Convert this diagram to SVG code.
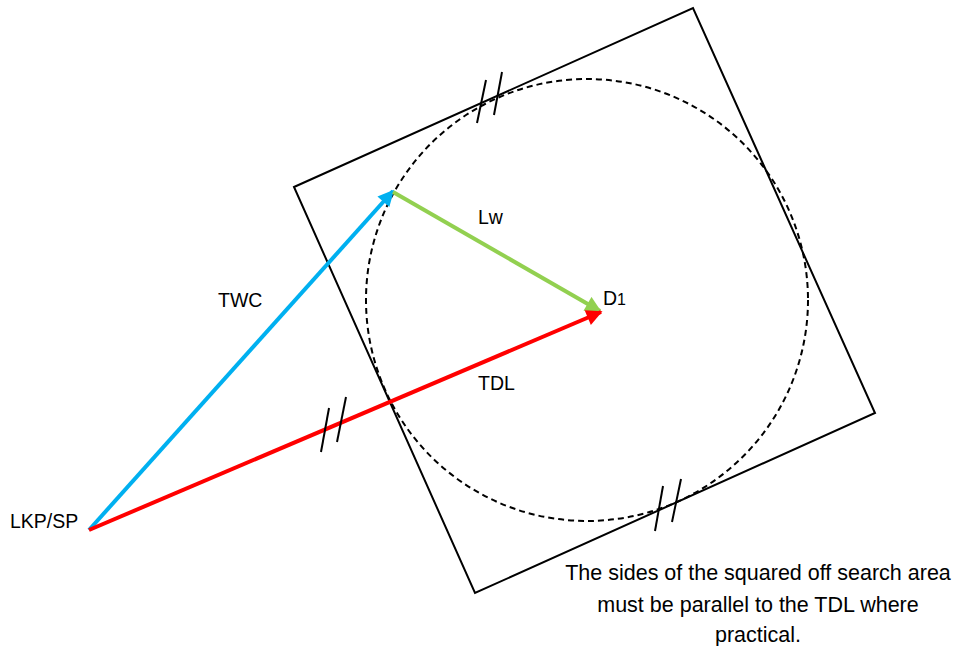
<svg xmlns="http://www.w3.org/2000/svg" width="961" height="646" viewBox="0 0 961 646">
<style>
.lbl{font-family:"Liberation Sans",Arial,sans-serif;font-size:19.5px;fill:#000}
.note{font-family:"Liberation Sans",Arial,sans-serif;font-size:21.5px;fill:#000;text-anchor:middle}
.tick{stroke:#000;stroke-width:2;fill:none}
</style>
<defs>
<marker id="ab" viewBox="0 0 10 10" refX="9" refY="5" markerWidth="4.5" markerHeight="4" orient="auto" markerUnits="strokeWidth"><path d="M0,0 L10,5 L0,10 z" fill="#00B0F0"/></marker>
<marker id="ag" viewBox="0 0 10 10" refX="9" refY="5" markerWidth="4.5" markerHeight="4" orient="auto" markerUnits="strokeWidth"><path d="M0,0 L10,5 L0,10 z" fill="#92D050"/></marker>
<marker id="ar" viewBox="0 0 10 10" refX="9" refY="5" markerWidth="4.5" markerHeight="4" orient="auto" markerUnits="strokeWidth"><path d="M0,0 L10,5 L0,10 z" fill="#FF0000"/></marker>
</defs>
<rect width="961" height="646" fill="#fff"/>
<g id="square"><polygon points="294,187 693,8 875,413 475,593" fill="none" stroke="#000" stroke-width="2"/></g>
<g id="circle"><circle cx="587" cy="300" r="221" fill="none" stroke="#000" stroke-width="2" stroke-dasharray="6,4"/></g>
<g id="connectors">
<line x1="89" y1="530" x2="393" y2="191" stroke="#00B0F0" stroke-width="4" marker-end="url(#ab)"/>
<line x1="393" y1="192" x2="600" y2="311" stroke="#92D050" stroke-width="4" marker-end="url(#ag)"/>
<line x1="89" y1="530" x2="601" y2="312" stroke="#FF0000" stroke-width="4" marker-end="url(#ar)"/>
</g>
<g id="ticks">
<line class="tick" x1="486" y1="80" x2="477" y2="123"/>
<line class="tick" x1="502" y1="72" x2="494" y2="115"/>
<line class="tick" x1="329" y1="408" x2="321" y2="452"/>
<line class="tick" x1="346" y1="397" x2="337" y2="442"/>
<line class="tick" x1="663" y1="486" x2="655" y2="531"/>
<line class="tick" x1="681" y1="479" x2="672" y2="522"/>
</g>
<g id="labels">
<text class="lbl" x="478" y="224">Lw</text>
<text class="lbl" x="603" y="305">D<tspan font-size="16">1</tspan></text>
<text class="lbl" x="218" y="307">TWC</text>
<text class="lbl" x="478" y="390">TDL</text>
<text class="lbl" x="10" y="528">LKP/SP</text>
</g>
<g id="note">
<text class="note" x="758" y="580">The sides of the squared off search area</text>
<text class="note" x="758" y="612">must be parallel to the TDL where</text>
<text class="note" x="758" y="642">practical.</text>
</g>
</svg>
